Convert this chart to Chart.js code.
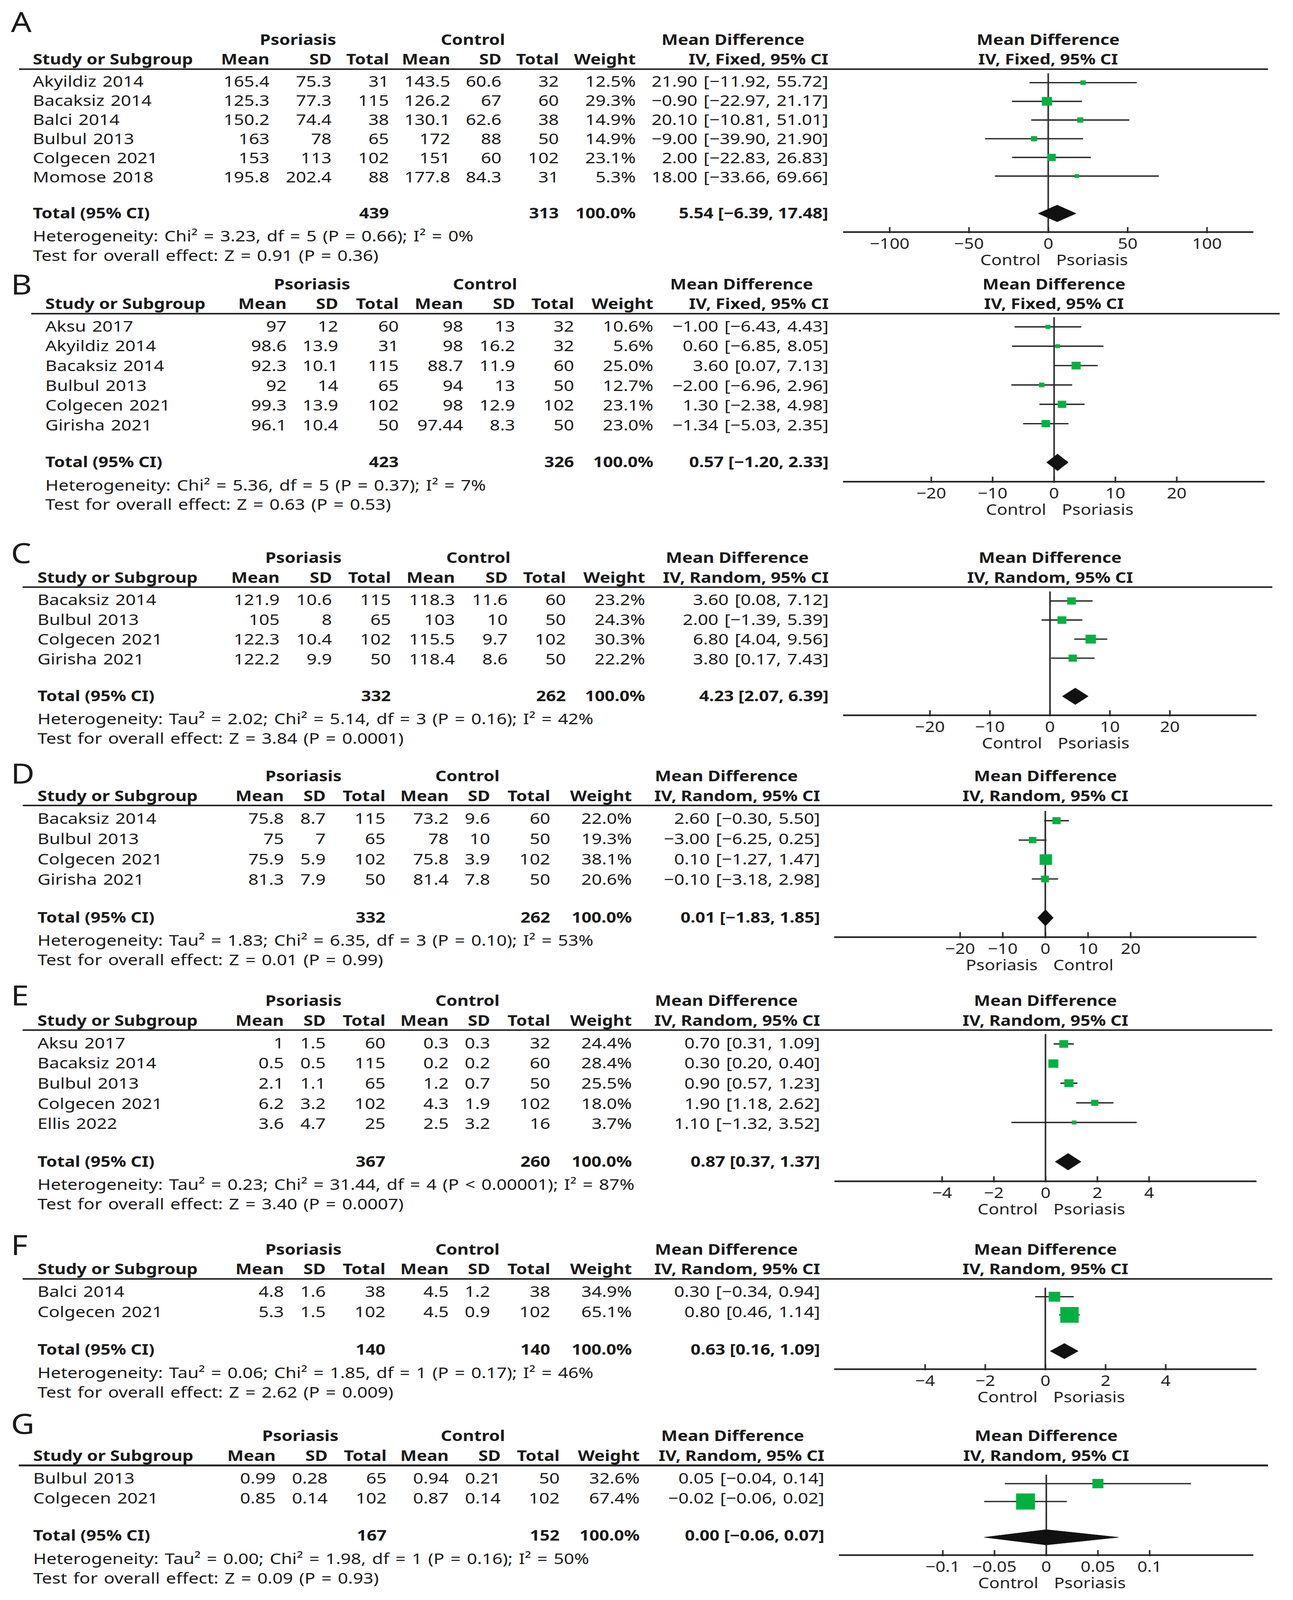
<!DOCTYPE html>
<html>
<head>
<meta charset="utf-8">
<script src="https://cdn.jsdelivr.net/npm/chart.js@4.4.1/dist/chart.umd.min.js"></script>
<style>
  html, body { margin: 0; background: #fff; overflow: hidden; }
  #page { position: relative; overflow: hidden; font-family: 'Noto Sans', 'Open Sans', sans-serif; color: #1a1a1a; }
  .t { position: absolute; white-space: nowrap; line-height: 1; }
  .rule { position: absolute; background: #262626; }
  canvas { position: absolute; }
</style>
</head>
<body>
<div id="page"></div>
<script>
// ---- data ----
// each study row: [mean, sd, total]; effects: [md, lower, upper]; totals: [psoriasis n, control n, md, lower, upper]
const studiesA = ['Akyildiz 2014', 'Bacaksiz 2014', 'Balci 2014', 'Bulbul 2013', 'Colgecen 2021', 'Momose 2018'];
const psoriasisA = [[165.4, 75.3, 31], [125.3, 77.3, 115], [150.2, 74.4, 38], [163, 78, 65], [153, 113, 102], [195.8, 202.4, 88]];
const controlA = [[143.5, 60.6, 32], [126.2, 67, 60], [130.1, 62.6, 38], [172, 88, 50], [151, 60, 102], [177.8, 84.3, 31]];
const weightA = [12.5, 29.3, 14.9, 14.9, 23.1, 5.3];
const effectA = [[21.90, -11.92, 55.72], [-0.90, -22.97, 21.17], [20.10, -10.81, 51.01], [-9.00, -39.90, 21.90], [2.00, -22.83, 26.83], [18.00, -33.66, 69.66]];
const totalA = [439, 313, 5.54, -6.39, 17.48];
const statsA = ['Heterogeneity: Chi² = 3.23, df = 5 (P = 0.66); I² = 0%', 'Test for overall effect: Z = 0.91 (P = 0.36)'];
const ticksA = [-100, -50, 0, 50, 100];

const studiesB = ['Aksu 2017', 'Akyildiz 2014', 'Bacaksiz 2014', 'Bulbul 2013', 'Colgecen 2021', 'Girisha 2021'];
const psoriasisB = [[97, 12, 60], [98.6, 13.9, 31], [92.3, 10.1, 115], [92, 14, 65], [99.3, 13.9, 102], [96.1, 10.4, 50]];
const controlB = [[98, 13, 32], [98, 16.2, 32], [88.7, 11.9, 60], [94, 13, 50], [98, 12.9, 102], [97.44, 8.3, 50]];
const weightB = [10.6, 5.6, 25.0, 12.7, 23.1, 23.0];
const effectB = [[-1.00, -6.43, 4.43], [0.60, -6.85, 8.05], [3.60, 0.07, 7.13], [-2.00, -6.96, 2.96], [1.30, -2.38, 4.98], [-1.34, -5.03, 2.35]];
const totalB = [423, 326, 0.57, -1.20, 2.33];
const statsB = ['Heterogeneity: Chi² = 5.36, df = 5 (P = 0.37); I² = 7%', 'Test for overall effect: Z = 0.63 (P = 0.53)'];
const ticksB = [-20, -10, 0, 10, 20];

const studiesC = ['Bacaksiz 2014', 'Bulbul 2013', 'Colgecen 2021', 'Girisha 2021'];
const psoriasisC = [[121.9, 10.6, 115], [105, 8, 65], [122.3, 10.4, 102], [122.2, 9.9, 50]];
const controlC = [[118.3, 11.6, 60], [103, 10, 50], [115.5, 9.7, 102], [118.4, 8.6, 50]];
const weightC = [23.2, 24.3, 30.3, 22.2];
const effectC = [[3.60, 0.08, 7.12], [2.00, -1.39, 5.39], [6.80, 4.04, 9.56], [3.80, 0.17, 7.43]];
const totalC = [332, 262, 4.23, 2.07, 6.39];
const statsC = ['Heterogeneity: Tau² = 2.02; Chi² = 5.14, df = 3 (P = 0.16); I² = 42%', 'Test for overall effect: Z = 3.84 (P = 0.0001)'];
const ticksC = [-20, -10, 0, 10, 20];

const studiesD = ['Bacaksiz 2014', 'Bulbul 2013', 'Colgecen 2021', 'Girisha 2021'];
const psoriasisD = [[75.8, 8.7, 115], [75, 7, 65], [75.9, 5.9, 102], [81.3, 7.9, 50]];
const controlD = [[73.2, 9.6, 60], [78, 10, 50], [75.8, 3.9, 102], [81.4, 7.8, 50]];
const weightD = [22.0, 19.3, 38.1, 20.6];
const effectD = [[2.60, -0.30, 5.50], [-3.00, -6.25, 0.25], [0.10, -1.27, 1.47], [-0.10, -3.18, 2.98]];
const totalD = [332, 262, 0.01, -1.83, 1.85];
const statsD = ['Heterogeneity: Tau² = 1.83; Chi² = 6.35, df = 3 (P = 0.10); I² = 53%', 'Test for overall effect: Z = 0.01 (P = 0.99)'];
const ticksD = [-20, -10, 0, 10, 20];

const studiesE = ['Aksu 2017', 'Bacaksiz 2014', 'Bulbul 2013', 'Colgecen 2021', 'Ellis 2022'];
const psoriasisE = [[1, 1.5, 60], [0.5, 0.5, 115], [2.1, 1.1, 65], [6.2, 3.2, 102], [3.6, 4.7, 25]];
const controlE = [[0.3, 0.3, 32], [0.2, 0.2, 60], [1.2, 0.7, 50], [4.3, 1.9, 102], [2.5, 3.2, 16]];
const weightE = [24.4, 28.4, 25.5, 18.0, 3.7];
const effectE = [[0.70, 0.31, 1.09], [0.30, 0.20, 0.40], [0.90, 0.57, 1.23], [1.90, 1.18, 2.62], [1.10, -1.32, 3.52]];
const totalE = [367, 260, 0.87, 0.37, 1.37];
const statsE = ['Heterogeneity: Tau² = 0.23; Chi² = 31.44, df = 4 (P < 0.00001); I² = 87%', 'Test for overall effect: Z = 3.40 (P = 0.0007)'];
const ticksE = [-4, -2, 0, 2, 4];

const studiesF = ['Balci 2014', 'Colgecen 2021'];
const psoriasisF = [[4.8, 1.6, 38], [5.3, 1.5, 102]];
const controlF = [[4.5, 1.2, 38], [4.5, 0.9, 102]];
const weightF = [34.9, 65.1];
const effectF = [[0.30, -0.34, 0.94], [0.80, 0.46, 1.14]];
const totalF = [140, 140, 0.63, 0.16, 1.09];
const statsF = ['Heterogeneity: Tau² = 0.06; Chi² = 1.85, df = 1 (P = 0.17); I² = 46%', 'Test for overall effect: Z = 2.62 (P = 0.009)'];
const ticksF = [-4, -2, 0, 2, 4];

const studiesG = ['Bulbul 2013', 'Colgecen 2021'];
const psoriasisG = [[0.99, 0.28, 65], [0.85, 0.14, 102]];
const controlG = [[0.94, 0.21, 50], [0.87, 0.14, 102]];
const weightG = [32.6, 67.4];
const effectG = [[0.05, -0.04, 0.14], [-0.02, -0.06, 0.02]];
const totalG = [167, 152, 0.00, -0.06, 0.07];
const statsG = ['Heterogeneity: Tau² = 0.00; Chi² = 1.98, df = 1 (P = 0.16); I² = 50%', 'Test for overall effect: Z = 0.09 (P = 0.93)'];
const ticksG = [-0.1, -0.05, 0, 0.05, 0.1];

// ---- layout (in 1080 x 1571 reference units, scaled to the window) ----
const SX = window.innerWidth / 1080;
const SY = window.innerHeight / 1571;
const KX = SX / SY;           // horizontal stretch if the window is not the reference shape
const FS = 14.5, FS_REG = 15;
const FONT = "'Noto Sans', 'Open Sans', sans-serif";
const INK = '#1a1a1a', LINE = '#262626', GREEN = '#00b140';
const colsDEF = [237, 271.9, 322, 374.8, 409.2, 459.7, 527.7, 685.1];
const groupsDEF = [253.3, 390.6, 606.6];

const panels = [
  { id: 'A', studies: studiesA, pso: psoriasisA, ctl: controlA, w: weightA, eff: effectA, tot: totalA, stats: statsA, ticks: ticksA,
    model: 'Fixed', sides: ['Control', 'Psoriasis'], letterY: 21, top: 67.9, pitch: 18.8, lineL: 16, lineR: 1059, studyX: 27.5,
    cols: [225.2, 276.9, 325, 376.2, 418.8, 466.9, 530.9, 692], groups: [249, 395, 612.4], zero: 875.6, half: 170.5, range: 128.7 },
  { id: 'B', studies: studiesB, pso: psoriasisB, ctl: controlB, w: weightB, eff: effectB, tot: totalB, stats: statsB, ticks: ticksB,
    model: 'Fixed', sides: ['Control', 'Psoriasis'], letterY: 278.8, top: 307.9, pitch: 19.4, lineL: 26, lineR: 1069, studyX: 38,
    cols: [239.3, 282.6, 333, 386.8, 430.2, 479.4, 545.6, 692.3], groups: [260.7, 405.2, 619.4], zero: 880.4, half: 175.3, range: 34.2 },
  { id: 'C', studies: studiesC, pso: psoriasisC, ctl: controlC, w: weightC, eff: effectC, tot: totalC, stats: statsC, ticks: ticksC,
    model: 'Random', sides: ['Control', 'Psoriasis'], letterY: 542.9, top: 576.6, pitch: 19.35, lineL: 18.8, lineR: 1062.7, studyX: 31.3,
    cols: [233.4, 277.3, 326.5, 380.1, 424, 472.7, 538.9, 692.3], groups: [253.3, 399.6, 615.8], zero: 877.1, half: 172, range: 34.3 },
  { id: 'D', studies: studiesD, pso: psoriasisD, ctl: controlD, w: weightD, eff: effectD, tot: totalD, stats: statsD, ticks: ticksD,
    model: 'Random', sides: ['Psoriasis', 'Control'], letterY: 759.1, top: 791, pitch: 19.9, lineL: 18.8, lineR: 1062.7, studyX: 31.3,
    cols: colsDEF, groups: groupsDEF, zero: 873.1, half: 175.5, range: 49.3 },
  { id: 'E', studies: studiesE, pso: psoriasisE, ctl: controlE, w: weightE, eff: effectE, tot: totalE, stats: statsE, ticks: ticksE,
    model: 'Random', sides: ['Control', 'Psoriasis'], letterY: 976.8, top: 1011.5, pitch: 19.8, lineL: 18.8, lineR: 1062.7, studyX: 31.3,
    cols: colsDEF, groups: groupsDEF, zero: 873.3, half: 175.5, range: 8.12 },
  { id: 'F', studies: studiesF, pso: psoriasisF, ctl: controlF, w: weightF, eff: effectF, tot: totalF, stats: statsF, ticks: ticksF,
    model: 'Random', sides: ['Control', 'Psoriasis'], letterY: 1221.8, top: 1255.6, pitch: 19.8, lineL: 18.8, lineR: 1062.7, studyX: 31.3,
    cols: colsDEF, groups: groupsDEF, zero: 873.1, half: 175.5, range: 6.99 },
  { id: 'G', studies: studiesG, pso: psoriasisG, ctl: controlG, w: weightG, eff: effectG, tot: totalG, stats: statsG, ticks: ticksG,
    model: 'Random', sides: ['Control', 'Psoriasis'], letterY: 1397.5, top: 1438.9, pitch: 19.6, lineL: 15.7, lineR: 1059, studyX: 27.7,
    cols: [230.3, 273.7, 322.9, 374.8, 418.1, 467.3, 534.4, 688.7], groups: [250.9, 395.1, 612], zero: 873.8, half: 172.2, range: 0.1995 }
];

const page = document.getElementById('page');
page.style.width = 1080 * SX + 'px';
page.style.height = 1571 * SY + 'px';

const minus = s => String(s).replace('-', '\u2212');
const fmt2 = v => minus(v.toFixed(2));
const ciText = (md, lo, hi) => `${fmt2(md)} [${fmt2(lo)}, ${fmt2(hi)}]`;
// RevMan-style box: area grows with weight, with a floor for tiny studies
const boxSide = w => Math.max(3.8, 0.69 * Math.pow(w, 0.744));

function txt(x, y, s, align, bold, size) {
  const d = document.createElement('div');
  d.className = 't';
  d.textContent = s;
  d.style.fontSize = (size || (bold ? FS : FS_REG)) * SY + 'px';
  d.style.fontWeight = bold ? '700' : '400';
  if (!bold && !size) d.style.wordSpacing = 1.2 * SY + 'px';
  d.style.left = x * SX + 'px';
  d.style.top = y * SY + 'px';
  const tx = align === 'right' ? '-100%' : align === 'center' ? '-50%' : '0';
  const ox = align === 'right' ? '100%' : align === 'center' ? '50%' : '0';
  d.style.transformOrigin = `${ox} 50%`;
  d.style.transform = `translate(${tx}, -50%) scaleX(${KX})`;
  page.appendChild(d);
}

function rule(x1, x2, y, th) {
  const d = document.createElement('div');
  d.className = 'rule';
  d.style.left = x1 * SX + 'px';
  d.style.width = (x2 - x1) * SX + 'px';
  d.style.top = (y - th / 2) * SY + 'px';
  d.style.height = th * SY + 'px';
  page.appendChild(d);
}

// tick marks pointing up into the plot, and the two side captions under the axis
const axisDecor = {
  id: 'axisDecor',
  afterDraw(chart, args, opts) {
    const ctx = chart.ctx, xs = chart.scales.x, yb = chart.chartArea.bottom, U = SY;
    ctx.save();
    ctx.strokeStyle = LINE;
    ctx.lineWidth = 1.3 * U;
    xs.ticks.forEach(t => {
      const px = xs.getPixelForValue(t.value);
      ctx.beginPath();
      ctx.moveTo(px, yb - 5 * U);
      ctx.lineTo(px, yb + 1 * U);
      ctx.stroke();
    });
    const z = xs.getPixelForValue(0), ly = yb + 28.5 * U;
    ctx.fillStyle = INK;
    ctx.font = `${FS * U}px ${FONT}`;
    ctx.textBaseline = 'middle';
    ctx.textAlign = 'right';
    ctx.fillText(opts.sides[0], z - 6.5 * U, ly);
    ctx.textAlign = 'left';
    ctx.fillText(opts.sides[1], z + 6.5 * U, ly);
    ctx.restore();
  }
};

function drawTable(p) {
  const n = p.studies.length;
  const hdrY = p.top - 9.8, grpY = p.top - 29.2;
  txt(9, p.letterY, p.id, 'left', false, 27);
  txt(p.groups[0], grpY, 'Psoriasis', 'center', true);
  txt(p.groups[1], grpY, 'Control', 'center', true);
  txt(p.groups[2], grpY, 'Mean Difference', 'center', true);
  txt(p.zero, grpY, 'Mean Difference', 'center', true);
  txt(p.studyX, hdrY, 'Study or Subgroup', 'left', true);
  const heads = ['Mean', 'SD', 'Total', 'Mean', 'SD', 'Total', 'Weight', `IV, ${p.model}, 95% CI`];
  heads.forEach((h, k) => txt(p.cols[k], hdrY, h, 'right', true));
  txt(p.zero, hdrY, `IV, ${p.model}, 95% CI`, 'center', true);
  rule(p.lineL, p.lineR, p.top, 1.6);

  p.studies.forEach((name, i) => {
    const y = p.top + p.pitch * (i + 0.5) + 2.2;
    const e = p.eff[i];
    const cells = [...p.pso[i], ...p.ctl[i]].map(minus);
    cells.push(p.w[i].toFixed(1) + '%', ciText(e[0], e[1], e[2]));
    txt(p.studyX, y, name, 'left');
    cells.forEach((c, k) => txt(p.cols[k], y, c, 'right'));
  });

  const ty = p.top + p.pitch * (n + 1.5);
  const t = p.tot;
  txt(p.studyX, ty, 'Total (95% CI)', 'left', true);
  txt(p.cols[2], ty, String(t[0]), 'right', true);
  txt(p.cols[5], ty, String(t[1]), 'right', true);
  txt(p.cols[6], ty, '100.0%', 'right', true);
  txt(p.cols[7], ty, ciText(t[2], t[3], t[4]), 'right', true);
  txt(p.studyX, ty + 22.5, p.stats[0], 'left');
  txt(p.studyX, ty + 41.5, p.stats[1], 'left');
}

function drawForest(p) {
  const n = p.studies.length, U = SY;
  const padX = 40, padTop = 2, axisH = 42, padBottom = 2;
  const axisY = p.top + p.pitch * (n + 2.5);
  const cv = document.createElement('canvas');
  cv.width = Math.round(2 * (p.half + padX) * U);
  cv.height = Math.round((padTop + (axisY - p.top) + axisH + padBottom) * U);
  cv.style.width = cv.width * KX + 'px';
  cv.style.height = cv.height + 'px';
  cv.style.left = (p.zero - p.half - padX) * SX + 'px';
  cv.style.top = (p.top - padTop) * SY + 'px';
  page.appendChild(cv);

  const ciSets = p.eff.map((e, i) => ({
    type: 'line',
    data: [{ x: e[1], y: i }, { x: e[2], y: i }],
    borderColor: LINE, borderWidth: 1.3 * U, pointRadius: 0, order: 2
  }));
  const boxes = {
    type: 'scatter',
    data: p.eff.map((e, i) => ({ x: e[0], y: i })),
    pointStyle: 'rect',
    pointRadius: c => boxSide(p.w[c.dataIndex]) * U / Math.SQRT2,
    backgroundColor: GREEN, borderWidth: 0, order: 0
  };
  const t = p.tot, yT = n + 1, dh = 8.4 / p.pitch;
  const diamond = {
    type: 'line',
    data: [{ x: t[3], y: yT }, { x: t[2], y: yT - dh }, { x: t[4], y: yT }, { x: t[2], y: yT + dh }, { x: t[3], y: yT }],
    fill: 'shape', backgroundColor: '#111', borderColor: '#111', borderWidth: 1, pointRadius: 0, tension: 0, order: 1
  };

  new Chart(cv, {
    type: 'scatter',
    data: { datasets: [...ciSets, boxes, diamond] },
    options: {
      responsive: false,
      animation: false,
      layout: { padding: { left: padX * U, right: padX * U, top: padTop * U, bottom: padBottom * U } },
      plugins: { legend: { display: false }, tooltip: { enabled: false }, axisDecor: { sides: p.sides } },
      scales: {
        x: {
          type: 'linear', min: -p.range, max: p.range,
          afterBuildTicks: a => { a.ticks = p.ticks.map(v => ({ value: v })); },
          afterFit: s => { s.height = axisH * U; },
          grid: {
            drawOnChartArea: true, drawTicks: false, lineWidth: 1.3 * U,
            color: c => (c.tick && c.tick.value === 0) ? LINE : 'rgba(0,0,0,0)'
          },
          border: { display: true, color: LINE, width: 1.6 * U },
          ticks: {
            padding: 3.6 * U, color: INK, maxRotation: 0, autoSkip: false,
            font: { family: FONT, size: FS * U },
            callback: v => minus(v)
          }
        },
        y: { type: 'linear', display: false, min: -0.5, max: n + 2, reverse: true }
      }
    },
    plugins: [axisDecor]
  });
}

panels.forEach(p => { drawTable(p); drawForest(p); });
</script>
</body>
</html>
